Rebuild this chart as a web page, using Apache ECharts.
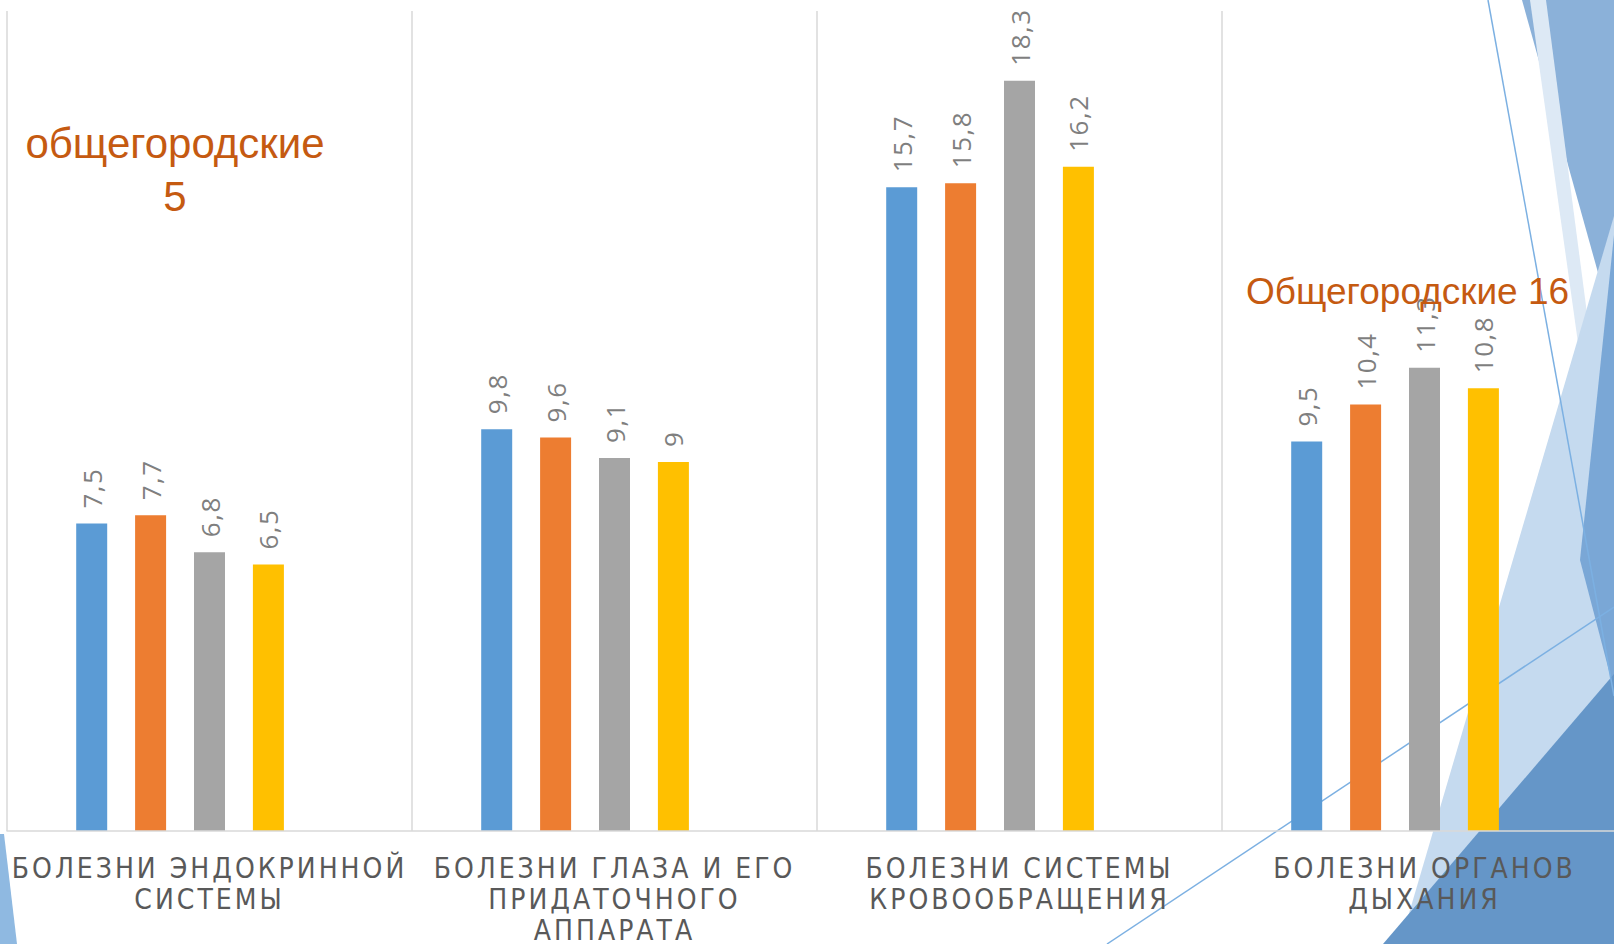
<!DOCTYPE html>
<html><head><meta charset="utf-8">
<script src="https://cdn.jsdelivr.net/npm/echarts@6/dist/echarts.min.js"></script>
<style>
html,body{margin:0;padding:0;background:#fff;overflow:hidden;width:1614px;height:944px;}
#c{width:1627px;height:944px;}
#c text[style*="28px"]{letter-spacing:3px;}
#c text[style*="26px"]{letter-spacing:1.5px;}
</style></head><body><div id="c"></div>
<script>
const categories = ['БОЛЕЗНИ ЭНДОКРИННОЙ\nСИСТЕМЫ', 'БОЛЕЗНИ ГЛАЗА И ЕГО\nПРИДАТОЧНОГО\nАППАРАТА', 'БОЛЕЗНИ СИСТЕМЫ\nКРОВООБРАЩЕНИЯ', 'БОЛЕЗНИ ОРГАНОВ\nДЫХАНИЯ'];
const series1 = [7.5, 9.8, 15.7, 9.5];
const series2 = [7.7, 9.6, 15.8, 10.4];
const series3 = [6.8, 9.1, 18.3, 11.3];
const series4 = [6.5, 9, 16.2, 10.8];
const series5 = [null, null, null, null];
const seriesNames = ['Ряд 1', 'Ряд 2', 'Ряд 3', 'Ряд 4', 'Ряд 5'];
const seriesColors = ['#5b9bd5', '#ed7d31', '#a5a5a5', '#ffc000', '#4472c4'];
const annotations = ['общегородские\n5', 'Общегородские 16'];

const allSeries = [series1, series2, series3, series4, series5];
const chart = echarts.init(document.getElementById('c'), null, {renderer: 'svg'});

const decor = [
  {type:'polygon', z:-5, shape:{points:[[0,834],[4,834],[17,944],[0,944]]}, style:{fill:'#8fb9e1'}},
  {type:'polygon', z:-5, shape:{points:[[1522,0],[1614,0],[1614,330]]}, style:{fill:'#8bb1d9'}},
  {type:'polygon', z:-5, shape:{points:[[1530,0],[1546,0],[1614,520],[1614,600]]}, style:{fill:'#dde9f5'}},
  {type:'polygon', z:-5, shape:{points:[[1614,216],[1614,944],[1400,944]]}, style:{fill:'#c5daef'}},
  {type:'polygon', z:-5, shape:{points:[[1614,235],[1614,690],[1580,560]]}, style:{fill:'#7aa7d6'}},
  {type:'polygon', z:-5, shape:{points:[[1614,674],[1614,944],[1383,944]]}, style:{fill:'#6596c8'}},
  {type:'line', z:-4, shape:{x1:1488,y1:0,x2:1614,y2:696}, style:{stroke:'#7cb0e2', lineWidth:1.5}},
  {type:'line', z:-4, shape:{x1:1107,y1:944,x2:1614,y2:607}, style:{stroke:'#7cb0e2', lineWidth:1.5}}
];

const notes = [
  {type:'text', z:100, style:{text:annotations[0], x:175, y:170, fill:'#c55a11', fontSize:42, fontFamily:'"Liberation Sans", Arial, sans-serif', align:'center', verticalAlign:'middle', lineHeight:53}},
  {type:'text', z:100, style:{text:annotations[1], x:1246, y:291, fill:'#c55a11', fontSize:37, fontFamily:'"Liberation Sans", Arial, sans-serif', align:'left', verticalAlign:'middle'}}
];

chart.setOption({
  backgroundColor: '#ffffff',
  animation: false,
  grid: {left: 7, top: 11, right: 0, height: 820, containLabel: false, outerBoundsMode: 'none'},
  xAxis: {
    type: 'category',
    data: categories,
    z: 3,
    axisLine: {show: true, lineStyle: {color: '#d9d9d9', width: 1.5}},
    axisTick: {show: false},
    splitLine: {show: true, lineStyle: {color: '#d9d9d9', width: 1.5}},
    axisLabel: {interval: 0, margin: 22, color: '#595959', fontSize: 28, lineHeight: 31,
      fontFamily: '"Liberation Sans Narrow", "DejaVu Sans Condensed", "Arial Narrow", sans-serif'}
  },
  yAxis: {type: 'value', min: 0, max: 20, show: false, splitLine: {show: false}},
  graphic: decor.concat(notes),
  series: allSeries.map((d, i) => ({
    type: 'bar',
    name: seriesNames[i],
    data: d,
    barWidth: 31,
    barGap: '90%',
    itemStyle: {color: seriesColors[i]},
    label: {
      show: true, position: 'top', rotate: 90, align: 'left', verticalAlign: 'middle',
      distance: 15, color: '#7f7f7f', fontSize: 26,
      fontFamily: '"Open Sans", "Liberation Sans", sans-serif',
      formatter: p => String(p.value).replace('.', ',')
    }
  }))
});
</script></body></html>
